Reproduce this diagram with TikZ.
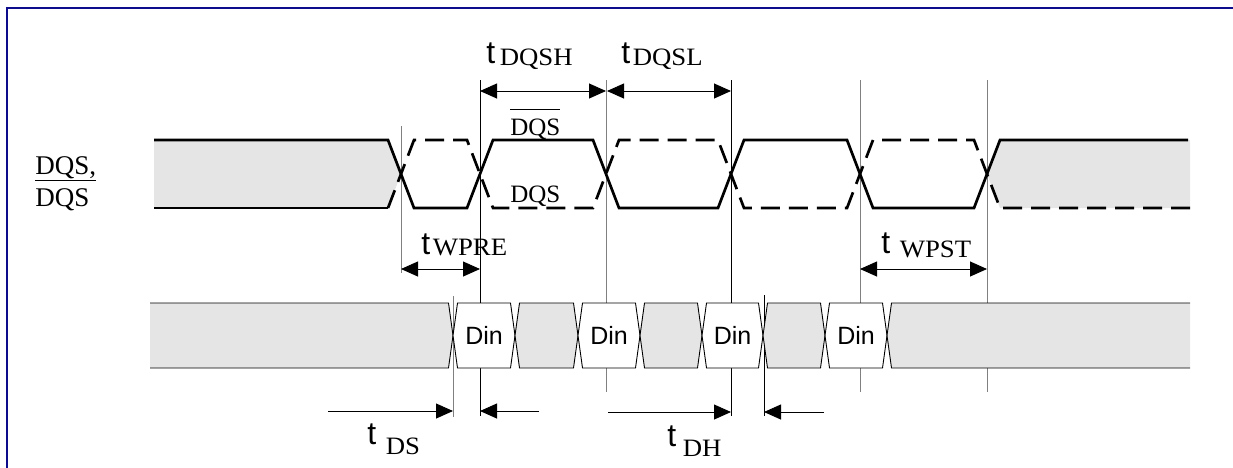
\documentclass[tikz,border=0pt]{standalone}
\usepackage{fontspec}
\setmainfont{Liberation Serif}
\setsansfont{Liberation Sans}
\usepackage{graphicx}
\usepackage{tikz}
\usetikzlibrary{arrows.meta,positioning}

\definecolor{frameblue}{RGB}{12,12,140}
\definecolor{busgrey}{RGB}{229,229,229}

\begin{document}
\begin{tikzpicture}[x=1pt,y=-1pt,>={Triangle[length=17pt,width=15pt]},
                    semithick]
\tikzstyle{sig}=[line width=2.7pt]
\tikzstyle{sigdash}=[line width=2.7pt,dash pattern=on 19pt off 9pt]
\tikzstyle{bus}=[line width=0.9pt,draw=black]
\tikzstyle{vline}=[line width=0.8pt,draw=gray]
\tikzstyle{vlineb}=[line width=0.8pt,draw=black]
\tikzstyle{dim}=[line width=0.9pt]
\tikzstyle{txt}=[inner sep=0pt,anchor=base west]
\tikzstyle{tfont}=[inner sep=0pt,anchor=base west,font=\sffamily\fontsize{32pt}{34pt}\selectfont]
\tikzstyle{subfont}=[inner sep=0pt,font=\fontsize{25pt}{27pt}\selectfont]
\tikzstyle{din}=[inner sep=0pt,font=\sffamily\fontsize{25pt}{27pt}\selectfont]
\tikzset{font=\fontsize{27pt}{29pt}\selectfont}

        \useasboundingbox (0,0) rectangle (1233,467);
        \draw[frameblue,line width=2.6pt] (7,470) -- (7,8) -- (1240,8);

        % guide lines
        \draw[vline]  (401,126) -- (401,273);
        \draw[vlineb] (480,80) -- (480,416);
        \draw[vline]  (606,80) -- (606,392);
        \draw[vlineb] (731,80) -- (731,416);
        \draw[vline]  (860,80) -- (860,392);
        \draw[vline]  (987,80) -- (987,392);
        \draw[vline]  (453,296) -- (453,417);
        \draw[vlineb] (764,295) -- (764,416);

        % DQS / DQS#
        \fill[busgrey] (154,140) -- (388,140) -- (401,174) -- (388,208) -- (154,208) -- cycle;
        \fill[busgrey] (987,174) -- (1000,140) -- (1190,140) -- (1190,208) -- (1000,208) -- cycle;
        \draw[sig] (154,140) -- (388,140) -- (414,208) -- (467,208) -- (493,140) -- (593,140)
                   -- (619,208) -- (718,208) -- (744,140) -- (847,140) -- (873,208)
                   -- (974,208) -- (1000,140) -- (1188,140);
        \draw[sig] (154,208) -- (388,208);
        \draw[sigdash] (388,208) -- (414,140) -- (467,140) -- (493,208) -- (593,208)
                   -- (619,140) -- (718,140) -- (744,208) -- (847,208) -- (873,140)
                   -- (974,140) -- (1000,208) -- (1192,208);

        \node[txt] (lq)   at (35,174)  {\underline{DQS,}};
        \node[txt] (lqb)  at (35,206)  {DQS};
        \node[txt,font=\fontsize{25pt}{27pt}\selectfont] (dqsn) at (510,135) {\rlap{\rule[25pt]{50pt}{1.1pt}}DQS};
        \node[txt,font=\fontsize{25pt}{27pt}\selectfont] (dqs)  at (510,202) {DQS};

        % data bus
        \fill[busgrey] (150,303) -- (448.5,303) -- (453,335.5) -- (448.5,368) -- (150,368) -- cycle;
        \draw[bus] (150,303) -- (448.5,303) -- (453,335.5) -- (448.5,368) -- (150,368);
        \draw[bus,fill=white]   (457.5,303) -- (510.5,303) -- (515,335.5) -- (510.5,368) -- (457.5,368) -- (453,335.5) -- cycle;
        \draw[bus,fill=busgrey] (519.5,303) -- (573.5,303) -- (578,335.5) -- (573.5,368) -- (519.5,368) -- (515,335.5) -- cycle;
        \draw[bus,fill=white]   (582.5,303) -- (635.5,303) -- (640,335.5) -- (635.5,368) -- (582.5,368) -- (578,335.5) -- cycle;
        \draw[bus,fill=busgrey] (644.5,303) -- (697.5,303) -- (702,335.5) -- (697.5,368) -- (644.5,368) -- (640,335.5) -- cycle;
        \draw[bus,fill=white]   (706.5,303) -- (758.5,303) -- (763,335.5) -- (758.5,368) -- (706.5,368) -- (702,335.5) -- cycle;
        \draw[bus,fill=busgrey] (767.5,303) -- (820.5,303) -- (825,335.5) -- (820.5,368) -- (767.5,368) -- (763,335.5) -- cycle;
        \draw[bus,fill=white]   (829.5,303) -- (882.5,303) -- (887,335.5) -- (882.5,368) -- (829.5,368) -- (825,335.5) -- cycle;
        \fill[busgrey] (1190,303) -- (891.5,303) -- (887,335.5) -- (891.5,368) -- (1190,368) -- cycle;
        \draw[bus] (1190,303) -- (891.5,303) -- (887,335.5) -- (891.5,368) -- (1190,368);

        \node[din] (din1) at (484,335.5) {Din};
        \node[din] (din2) at (609,335.5) {Din};
        \node[din] (din3) at (732.5,335.5) {Din};
        \node[din] (din4) at (856,335.5) {Din};

        % timing arrows
        \coordinate (qh1) at (480,91);
        \coordinate (qh2) at (606,91);
        \coordinate (ql1) at (607,91);
        \coordinate (ql2) at (731,91);
        \coordinate (pre1) at (401,269);
        \coordinate (pre2) at (480,269);
        \coordinate (pst1) at (860,269);
        \coordinate (pst2) at (987,269);
        \coordinate (ds1) at (328,411);
        \coordinate (ds2) at (453,411);
        \coordinate (ds3) at (539,411);
        \coordinate (ds4) at (480,411);
        \coordinate (dh1) at (608,412);
        \coordinate (dh2) at (731,412);
        \coordinate (dh3) at (824,412);
        \coordinate (dh4) at (764,412);

        \draw[dim,<->] (qh1) -- (qh2);
        \draw[dim,<->] (ql1) -- (ql2);
        \draw[dim,<->] (pre1) -- (pre2);
        \draw[dim,<->] (pst1) -- (pst2);
        \draw[dim,->] (ds1) -- (ds2);
        \draw[dim,->] (ds3) -- (ds4);
        \draw[dim,->] (dh1) -- (dh2);
        \draw[dim,->] (dh3) -- (dh4);

        % labels
        \node[tfont] (tDQSH) at (486,63) {t};
        \node[subfont] (sDQSH) [right=4pt of tDQSH.base east, anchor=base west, yshift=-2pt] {\scalebox{1.07}[1]{DQSH}};
        \node[tfont] (tDQSL) at (621,63) {t};
        \node[subfont] (sDQSL) [right=2pt of tDQSL.base east, anchor=base west, yshift=-2pt] {\scalebox{1.07}[1]{DQSL}};
        \node[tfont] (tWPRE) at (421,254) {t};
        \node[subfont] (sWPRE) [right=2pt of tWPRE.base east, anchor=base west, yshift=-1pt] {\scalebox{1.07}[1]{WPRE}};
        \node[tfont] (tWPST) at (881,253) {t};
        \node[subfont] (sWPST) [right=9pt of tWPST.base east, anchor=base west, yshift=-4pt] {\scalebox{1.07}[1]{WPST}};
        \node[tfont] (tDS) at (367,444) {t};
        \node[subfont] (sDS) [right=9pt of tDS.base east, anchor=base west, yshift=-10pt] {\scalebox{1.07}[1]{DS}};
        \node[tfont] (tDH) at (667,446) {t};
        \node[subfont] (sDH) [right=6pt of tDH.base east, anchor=base west, yshift=-10pt] {\scalebox{1.07}[1]{DH}};

\end{tikzpicture}
\end{document}
